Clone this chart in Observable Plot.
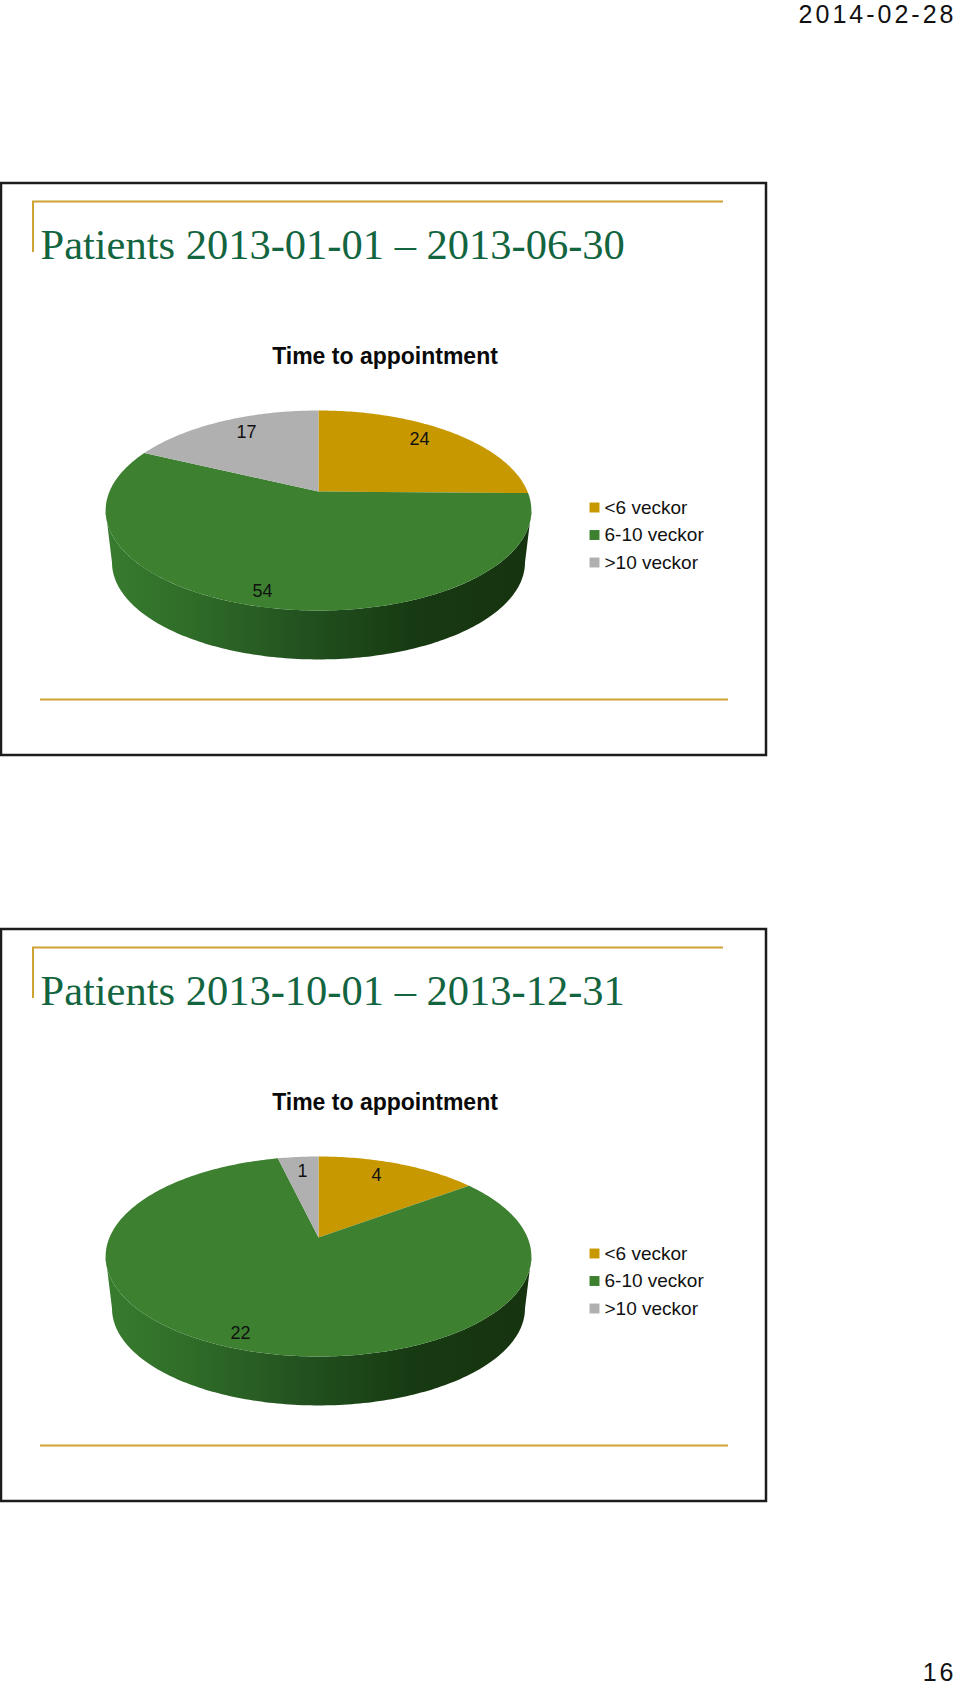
<!DOCTYPE html>
<html>
<head>
<meta charset="utf-8">
<script src="https://cdn.jsdelivr.net/npm/d3@7"></script>
<script src="https://cdn.jsdelivr.net/npm/@observablehq/plot@0.6"></script>
<style>
html,body{margin:0;padding:0;background:#fff}
svg{display:block}
</style>
</head>
<body>
<div id="chart"></div>
<script>
// ---- data ----
const categories = ["<6 veckor", "6-10 veckor", ">10 veckor"];
const valuesFirst = [24, 54, 17];
const valuesSecond = [4, 22, 1];
const titles = ["Patients 2013-01-01 \u2013 2013-06-30", "Patients 2013-10-01 \u2013 2013-12-31"];
const chartTitle = "Time to appointment";
const pageDate = "2014-02-28";
const pageNumber = "16";
const colors = ["#c89800", "#3c8030", "#b0b0b0"];

// ---- layout ----
const W = 960, H = 1687;
const slideTops = [183, 929];        // frame top of each slide
const P = {cx: 318, apex: 308, A: 209, B: 96.4, k: 0.19, wallScale: 0.97, wallDrop: 52.5};
// label offsets relative to the pie apex, one per category
const labelOffsets = [
  [[101, -52], [-56, 100], [-72, -59]],
  [[58, -62], [-78, 96], [-16, -66]]
];

// perspective projection of the unit disc onto the screen
function project(theta, r, scale, drop, apexY) {
  const u = r * Math.sin(theta), v = r * Math.cos(theta), w = 1 + P.k * v;
  return {x: P.cx + scale * P.A * u / w, y: apexY + drop + scale * P.B * -v / w};
}

function pieTables(values, apexY) {
  const total = d3.sum(values);
  let start = 0;
  const wedge = [], wall = [];
  const a0 = Math.PI / 2 + Math.asin(P.k), a1 = 2 * Math.PI - a0;
  values.forEach((val, i) => {
    const end = start + val / total * 2 * Math.PI;
    const n = Math.max(4, Math.ceil((end - start) * 60));
    wedge.push({category: categories[i], ...project(0, 0, 1, 0, apexY)});
    for (let j = 0; j <= n; ++j) {
      wedge.push({category: categories[i], ...project(start + (end - start) * j / n, 1, 1, 0, apexY)});
    }
    const s = Math.max(start, a0), e = Math.min(end, a1);
    if (e > s) {
      const m = Math.ceil((e - s) * 60), rim = d3.range(m + 1).map(j => s + (e - s) * j / m);
      for (const t of rim) wall.push(project(t, 1, 1, 0, apexY));
      for (const t of rim.reverse()) wall.push(project(t, 1, P.wallScale, P.wallDrop, apexY));
    }
    start = end;
  });
  return {wedge, wall};
}

const gold = "#cfa232", ink = "#1c1c1c", titleGreen = "#13653f";

function slideMarks(values, index) {
  const top = slideTops[index], apexY = top + P.apex;
  const {wedge, wall} = pieTables(values, apexY);
  const labels = values.map((v, i) => ({
    label: String(v),
    x: P.cx + labelOffsets[index][i][0],
    y: apexY + labelOffsets[index][i][1]
  }));
  const legend = categories.map((c, i) => ({category: c, y: top + 324 + i * 27.5}));
  return [
    Plot.rect([{}], {x1: 1, x2: 766, y1: top, y2: top + 572, fill: "white", stroke: ink, strokeWidth: 2.5}),
    Plot.ruleY([top + 18], {x1: 32, x2: 723, stroke: gold, strokeWidth: 2}),
    Plot.ruleX([32.5], {y1: top + 18, y2: top + 69, stroke: gold, strokeWidth: 2}),
    Plot.ruleY([top + 516], {x1: 40, x2: 728, stroke: gold, strokeWidth: 2}),
    Plot.text([titles[index]], {x: 40, y: top + 75, text: d => d, textAnchor: "start", lineAnchor: "bottom",
      fontFamily: "Liberation Serif", fontSize: 42.5, fill: titleGreen}),
    Plot.text([chartTitle], {x: 384.5, y: top + 180, text: d => d, textAnchor: "middle", lineAnchor: "bottom",
      fontFamily: "Liberation Sans", fontWeight: "bold", fontSize: 23, fill: "#0a0a0a"}),
    Plot.line(wall, {x: "x", y: "y", fill: "url(#wallShade)", stroke: "none"}),
    Plot.line(wedge, {x: "x", y: "y", fill: "category", z: "category", stroke: "none"}),
    Plot.text(labels, {x: "x", y: "y", text: "label", textAnchor: "middle", lineAnchor: "middle",
      fontFamily: "Liberation Sans", fontSize: 18, fill: "#111"}),
    Plot.dot(legend, {x: 594, y: "y", symbol: "square", r: 5.6, fill: "category", stroke: "none"}),
    Plot.text(legend, {x: 604, y: "y", text: "category", textAnchor: "start", lineAnchor: "middle",
      fontFamily: "Liberation Sans", fontSize: 19, fill: "#111"})
  ];
}

const wallGradient = () => {
  const svgNS = "http://www.w3.org/2000/svg";
  const defs = document.createElementNS(svgNS, "defs");
  const g = document.createElementNS(svgNS, "linearGradient");
  g.setAttribute("id", "wallShade");
  [[0, "#387c2f"], [0.2, "#2f6c28"], [0.45, "#235320"], [0.72, "#173a12"], [1, "#16330f"]].forEach(([o, c]) => {
    const s = document.createElementNS(svgNS, "stop");
    s.setAttribute("offset", o);
    s.setAttribute("stop-color", c);
    g.appendChild(s);
  });
  defs.appendChild(g);
  return defs;
};

const plot = Plot.plot({
  width: W,
  height: H,
  margin: 0,
  style: {background: "white"},
  x: {domain: [0, W], range: [0, W], axis: null},
  y: {domain: [0, H], range: [0, H], axis: null},
  color: {type: "ordinal", domain: categories, range: colors},
  marks: [
    wallGradient,
    ...slideMarks(valuesFirst, 0),
    ...slideMarks(valuesSecond, 1),
    Plot.text([pageDate], {x: 956, y: 14, text: d => d, textAnchor: "end", lineAnchor: "middle",
      fontFamily: "Liberation Sans", fontSize: 25, fill: "#111"}),
    Plot.text([pageNumber], {x: 956, y: 1672, text: d => d, textAnchor: "end", lineAnchor: "middle",
      fontFamily: "Liberation Sans", fontSize: 25, fill: "#111"})
  ]
});
d3.select(plot).selectAll("text").filter(function () {
  return this.textContent === pageDate || this.textContent === pageNumber;
}).style("letter-spacing", "3px");
document.getElementById("chart").appendChild(plot);
</script>
</body>
</html>
